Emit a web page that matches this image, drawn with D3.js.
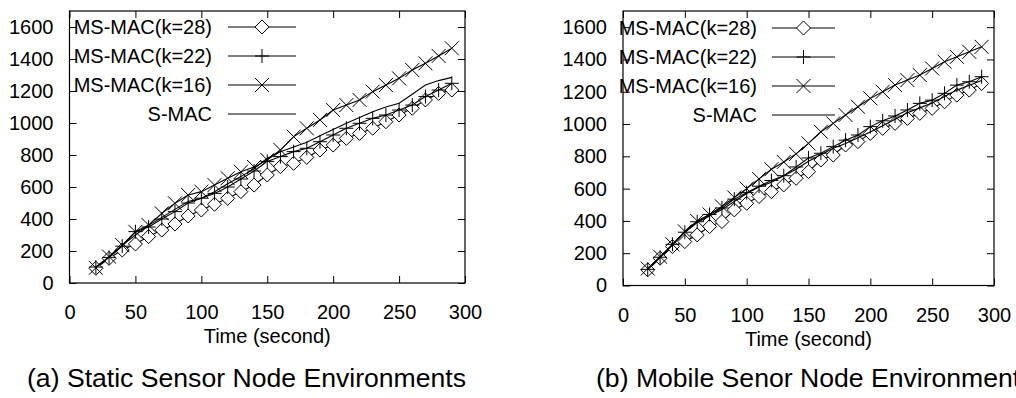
<!DOCTYPE html>
<html>
<head>
<meta charset="utf-8">
<script src="https://cdn.jsdelivr.net/npm/d3@7"></script>
<style>
  body { margin: 0; background: #fff; }
  text { font-family: "Liberation Sans", Arial, sans-serif; fill: #000; }
</style>
</head>
<body>
<div id="chart"></div>
<script>
// x values (seconds) shared by every series
const timeSec = [20, 30, 40, 50, 60, 70, 80, 90, 100, 110, 120, 130, 140, 150,
                 160, 170, 180, 190, 200, 210, 220, 230, 240, 250, 260, 270, 280, 290];

// (a) static sensor nodes
const staticK28 = [92, 154, 206, 244, 290, 331, 369, 419, 456, 492, 529, 571, 612, 675,
                   727, 748, 785, 831, 862, 904, 935, 967, 1008, 1050, 1092, 1144, 1185, 1206];
const staticK22 = [100, 160, 230, 321, 350, 400, 446, 500, 530, 560, 600, 650, 700, 760,
                   790, 821, 842, 883, 925, 967, 998, 1029, 1050, 1081, 1112, 1165, 1206, 1248];
const staticK16 = [95, 165, 237, 320, 362, 435, 498, 550, 571, 612, 655, 695, 725, 769,
                   831, 915, 967, 1019, 1081, 1112, 1144, 1196, 1237, 1279, 1331, 1373, 1419, 1467];
const staticSMAC = [100, 160, 235, 300, 360, 410, 460, 510, 530, 570, 620, 665, 715, 780,
                    820, 850, 880, 920, 960, 998, 1035, 1071, 1100, 1123, 1180, 1237, 1265, 1285];

// (b) mobile sensor nodes
const mobileK28 = [97, 169, 241, 272, 313, 365, 396, 468, 509, 551, 581, 623, 664, 705,
                   777, 808, 870, 891, 942, 973, 1004, 1035, 1066, 1097, 1138, 1179, 1210, 1251];
const mobileK22 = [100, 175, 255, 330, 395, 440, 480, 535, 575, 615, 650, 680, 734, 790,
                   819, 860, 900, 932, 984, 1020, 1050, 1087, 1128, 1148, 1190, 1241, 1262, 1293];
const mobileK16 = [105, 178, 255, 335, 400, 440, 490, 545, 600, 660, 720, 765, 815, 880,
                   952, 1004, 1056, 1107, 1159, 1200, 1241, 1272, 1303, 1344, 1386, 1416, 1447, 1478];
const mobileSMAC = [100, 175, 250, 330, 390, 430, 470, 520, 570, 610, 640, 680, 720, 770,
                    810, 850, 880, 915, 950, 990, 1030, 1070, 1100, 1130, 1170, 1210, 1240, 1270];

const seriesNames = ["MS-MAC(k=28)", "MS-MAC(k=22)", "MS-MAC(k=16)", "S-MAC"];
const seriesSymbols = ["diamond", "plus", "cross", "none"];
const xTicks = [0, 50, 100, 150, 200, 250, 300];
const yTicks = [0, 200, 400, 600, 800, 1000, 1200, 1400, 1600];
const xLabel = "Time (second)";
const captions = ["(a) Static Sensor Node Environments", "(b) Mobile Senor Node Environments"];

const svg = d3.select("#chart").append("svg")
    .attr("width", 1016)
    .attr("height", 398);

// draw one marker at (0,0) inside g
function symbol(g, type) {
    if (type === "diamond") {
        g.append("path").attr("d", "M0,-7L7,0L0,7L-7,0Z")
            .attr("fill", "#fff").attr("stroke", "#000").attr("stroke-width", 1);
    } else if (type === "plus") {
        g.append("path").attr("d", "M-7,0H7M0,-7V7")
            .attr("stroke", "#000").attr("stroke-width", 1);
    } else if (type === "cross") {
        g.append("path").attr("d", "M-7,-7L7,7M-7,7L7,-7")
            .attr("stroke", "#000").attr("stroke-width", 1);
    }
}

function drawPanel(p) {
    const x = d3.scaleLinear().domain([0, 300]).range([p.left, p.right]);
    const y = d3.scaleLinear().domain([0, 1700]).range([p.bottom, p.top]);
    const fmt = d3.format("d");

    const g = svg.append("g");

    // frame
    g.append("rect")
        .attr("x", p.left).attr("y", p.top)
        .attr("width", p.right - p.left).attr("height", p.bottom - p.top)
        .attr("fill", "none").attr("stroke", "#000").attr("stroke-width", 1.2);

    // axes with inward ticks
    const ax = g.append("g")
        .attr("transform", "translate(0," + p.bottom + ")")
        .call(d3.axisBottom(x).tickValues(xTicks).tickFormat(fmt)
            .tickSize(-7).tickSizeOuter(0).tickPadding(22));
    const ay = g.append("g")
        .attr("transform", "translate(" + p.left + ",0)")
        .call(d3.axisLeft(y).tickValues(yTicks).tickFormat(fmt)
            .tickSize(-7).tickSizeOuter(0).tickPadding(16));
    g.append("g")
        .attr("transform", "translate(0," + p.top + ")")
        .call(d3.axisTop(x).tickValues(xTicks).tickSize(-7).tickSizeOuter(0).tickFormat(""));
    g.append("g")
        .attr("transform", "translate(" + p.right + ",0)")
        .call(d3.axisRight(y).tickValues(yTicks).tickSize(-7).tickSizeOuter(0).tickFormat(""));

    g.selectAll(".domain").remove();
    g.selectAll(".tick line").attr("stroke", "#000");
    [ax, ay].forEach(a => a.attr("font-size", 20).attr("font-family", null));
    g.selectAll(".tick text").attr("fill", "#000");

    g.append("text")
        .attr("x", (p.left + p.right) / 2).attr("y", p.bottom + 60)
        .attr("text-anchor", "middle").attr("font-size", 20)
        .text(xLabel);

    g.append("text")
        .attr("x", p.captionX).attr("y", 387)
        .attr("font-size", 26.6)
        .text(p.caption);

    const line = d3.line()
        .x((d, i) => x(timeSec[i]))
        .y(d => y(d));

    // series, drawn in legend order
    p.series.forEach((vals, si) => {
        g.append("path")
            .datum(vals)
            .attr("d", line)
            .attr("fill", "none")
            .attr("stroke", "#000")
            .attr("stroke-width", 1.1);

        if (seriesSymbols[si] !== "none") {
            g.selectAll(null)
                .data(vals)
                .enter().append("g")
                .attr("transform", (d, i) => "translate(" + x(timeSec[i]) + "," + y(d) + ")")
                .each(function() { symbol(d3.select(this), seriesSymbols[si]); });
        }

        // legend entry
        const ly = p.legendY + si * 29;
        g.append("text")
            .attr("x", p.legendText).attr("y", ly)
            .attr("dy", "0.35em")
            .attr("text-anchor", "end")
            .attr("font-size", 20)
            .text(seriesNames[si]);
        g.append("line")
            .attr("x1", p.legendLine[0]).attr("x2", p.legendLine[1])
            .attr("y1", ly).attr("y2", ly)
            .attr("stroke", "#000").attr("stroke-width", 1.1);
        const sg = g.append("g")
            .attr("transform", "translate(" + (p.legendLine[0] + p.legendLine[1]) / 2 + "," + ly + ")");
        symbol(sg, seriesSymbols[si]);
    });
}

drawPanel({
    left: 69.5, right: 465, top: 11, bottom: 283,
    series: [staticK28, staticK22, staticK16, staticSMAC],
    legendY: 27, legendText: 212, legendLine: [228, 296],
    caption: captions[0], captionX: 27
});

drawPanel({
    left: 623, right: 994, top: 11, bottom: 285.5,
    series: [mobileK28, mobileK22, mobileK16, mobileSMAC],
    legendY: 28, legendText: 757, legendLine: [772, 835],
    caption: captions[1], captionX: 596
});
</script>
</body>
</html>
